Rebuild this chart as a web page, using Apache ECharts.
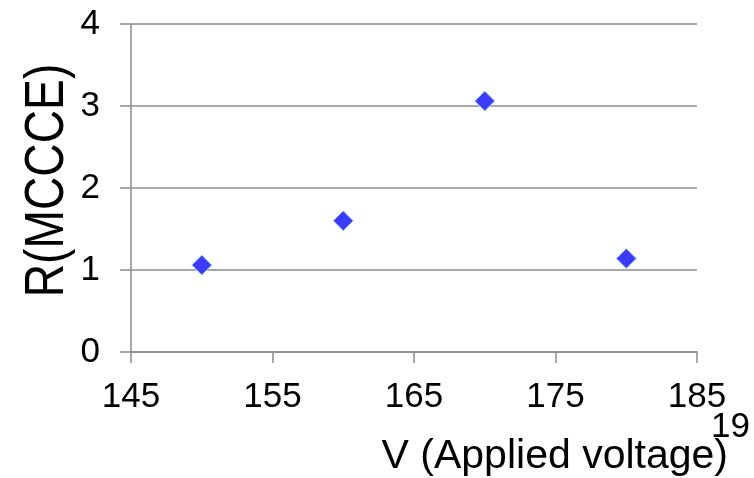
<!DOCTYPE html>
<html>
<head>
<meta charset="utf-8">
<script src="https://cdn.jsdelivr.net/npm/echarts@6/dist/echarts.min.js"></script>
<style>
  html, body { margin: 0; padding: 0; background: #fff; }
  #chart { width: 754px; height: 478px; }
</style>
</head>
<body>
<div id="chart"></div>
<script>
// Applied voltage (V) and measured R(MCCCE)
const voltages = [150, 160, 170, 180];
const rValues = [1.06, 1.60, 3.06, 1.14];
const xTicks = { min: 145, max: 185, step: 10 };
const yTicks = { min: 0, max: 4, step: 1 };

const font = 'Liberation Sans, Arial, sans-serif';
const gridGrey = '#8c8c8c';

const chart = echarts.init(document.getElementById('chart'), null, { renderer: 'canvas' });
chart.setOption({
  backgroundColor: '#ffffff',
  animation: false,
  grid: { left: 131, right: 57, top: 24, bottom: 126, containLabel: false },
  xAxis: {
    type: 'value',
    min: xTicks.min, max: xTicks.max, interval: xTicks.step,
    name: 'V (Applied voltage)',
    nameLocation: 'end',
    nameGap: 31,
    nameTextStyle: { fontFamily: font, fontSize: 41, color: '#000', align: 'right', verticalAlign: 'top', padding: [84, 0, 0, 0] },
    axisLine: { show: true, onZero: false, lineStyle: { color: gridGrey, width: 1.5 } },
    axisTick: { show: true, inside: false, length: 11, lineStyle: { color: gridGrey, width: 1.5 } },
    axisLabel: { fontFamily: font, fontSize: 35, color: '#000', margin: 28 },
    splitLine: { show: false }
  },
  yAxis: {
    type: 'value',
    min: yTicks.min, max: yTicks.max, interval: yTicks.step,
    axisLine: { show: true, lineStyle: { color: gridGrey, width: 1.5 } },
    axisTick: { show: true, length: 11, lineStyle: { color: gridGrey, width: 1.5 } },
    axisLabel: { fontFamily: font, fontSize: 35, color: '#000', margin: 31 },
    splitLine: { show: true, lineStyle: { color: gridGrey, width: 1.5 } }
  },
  graphic: [
    {
      // vertical axis title, slightly condensed along its length
      type: 'text',
      x: 48, y: 180.5,
      rotation: Math.PI / 2,
      scaleX: 0.84,
      style: { text: 'R(MCCCE)', font: '55px ' + font, fill: '#000', align: 'center', verticalAlign: 'middle' }
    },
    {
      type: 'text',
      left: 711, top: 410,
      style: { text: '19', font: '35px ' + font, fill: '#000' }
    }
  ],
  series: [{
    type: 'scatter',
    data: voltages.map((v, i) => [v, rValues[i]]),
    symbol: 'diamond',
    symbolSize: 20,
    itemStyle: { color: '#3b3bff', opacity: 1, borderColor: '#a9dbe8', borderWidth: 1 }
  }]
});
</script>
</body>
</html>
